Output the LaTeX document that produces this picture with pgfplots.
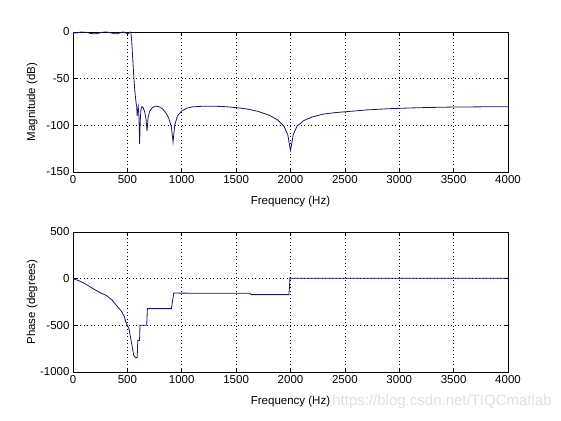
\documentclass[border=0pt]{standalone}
\usepackage{pgfplots}
\pgfplotsset{compat=1.18}
\usepackage{fontspec}
\setmainfont{Liberation Sans}
\definecolor{lc}{rgb}{0.1,0.08,0.42}
\pgfplotsset{
  mystyle/.style={
    scale only axis, width=435pt, height=140pt,
    xmin=0, xmax=4000, xtick={0,500,...,4000},
    grid=major, major grid style={black, line width=0.6pt, dash pattern=on 0.9pt off 2.6pt},
    axis line style={black, line width=0.6pt},
    tick align=inside, major tick length=4pt,
    tick style={black, line width=0.6pt},
    /pgf/number format/assume math mode=true,
    /pgf/number format/1000 sep={},
    ticklabel style={font=\fontsize{11.5}{13}\selectfont},
    label style={font=\fontsize{11.5}{13}\selectfont},
    xlabel style={at={(axis description cs:0.5,-0.21)}, anchor=center},
    ylabel style={at={(axis description cs:-0.094,0.5)}, anchor=center, rotate=0},
  }
}
\begin{document}
\begin{tikzpicture}[x=1pt,y=1pt]
\useasboundingbox (0,0) rectangle (561,420);
\begin{axis}[mystyle, at={(73pt,248pt)}, anchor=south west,
  ymin=-150, ymax=0, ytick={-150,-100,-50,0},
  xlabel={Frequency (Hz)}, ylabel={Magnitude (dB)}]
\addplot[lc, line width=0.8pt, mark=none] coordinates {
(0,-0.5)(20,-1)(40,-1)(60,-0.3)(80,0)(100,-0.2)(130,-0.5)(160,-1.5)(190,-2)(220,-1.8)
(250,-0.8)(280,-0.2)(300,0)(320,-0.2)(350,-1)(380,-1.8)(410,-1.8)(430,-1)(450,-0.2)(470,-0.1)
(490,-1.2)(505,-2)(515,-1.2)(525,0)(532,-0.5)(540,-10)(550,-30)(560,-50)(570,-65)(580,-76)
(586,-80)(590,-90)(594,-85)(600,-80)(606,-90)(613,-120)(618,-95)(625,-83)(635,-80)(645,-81)
(660,-86)(672,-94)(681,-106)(690,-92)(705,-85)(730,-81)(760,-79.5)(790,-80)(820,-82)(850,-86)
(880,-92)(905,-102)(920,-118)(935,-100)(960,-90)(1000,-84.5)(1050,-81.5)(1100,-80.2)(1200,-79.5)
(1300,-79.5)(1400,-80)(1500,-81)(1600,-82.5)(1700,-85)(1800,-89)(1880,-94)(1940,-101)(1975,-110)
(1992,-122)(2000,-127)(2008,-122)(2025,-110)(2060,-101)(2120,-95)(2200,-91)(2300,-88)(2400,-86.5)
(2500,-85.5)(2700,-83.5)(2900,-82.2)(3100,-81.4)(3300,-80.8)(3500,-80.4)(3750,-80.2)(4000,-80)
};
\end{axis}
\begin{axis}[mystyle, at={(73pt,48pt)}, anchor=south west,
  ymin=-1000, ymax=500, ytick={-1000,-500,0,500},
  xlabel={Frequency (Hz)}, ylabel={Phase (degrees)}]
\addplot[lc, line width=0.8pt, mark=none] coordinates {
(0,0)(50,-20)(92,-43)(140,-75)(184,-107)(240,-145)(306,-179)(360,-230)(399,-286)(445,-350)
(470,-400)(491,-482)(515,-536)(537,-679)(558,-821)(575,-846)(590,-846)(596,-661)(612,-661)
(616,-500)(678,-500)(684,-321)(905,-321)(926,-154)(1000,-155)(1625,-157)(1640,-171)(1985,-171)
(1990,-100)(1995,10)(2000,5)(4000,5)
};
\end{axis}
\node[anchor=center, text=black!12, font=\fontsize{15}{17}\selectfont] at (442,18) {https://blog.csdn.net/TIQCmatlab};
\end{tikzpicture}
\end{document}
